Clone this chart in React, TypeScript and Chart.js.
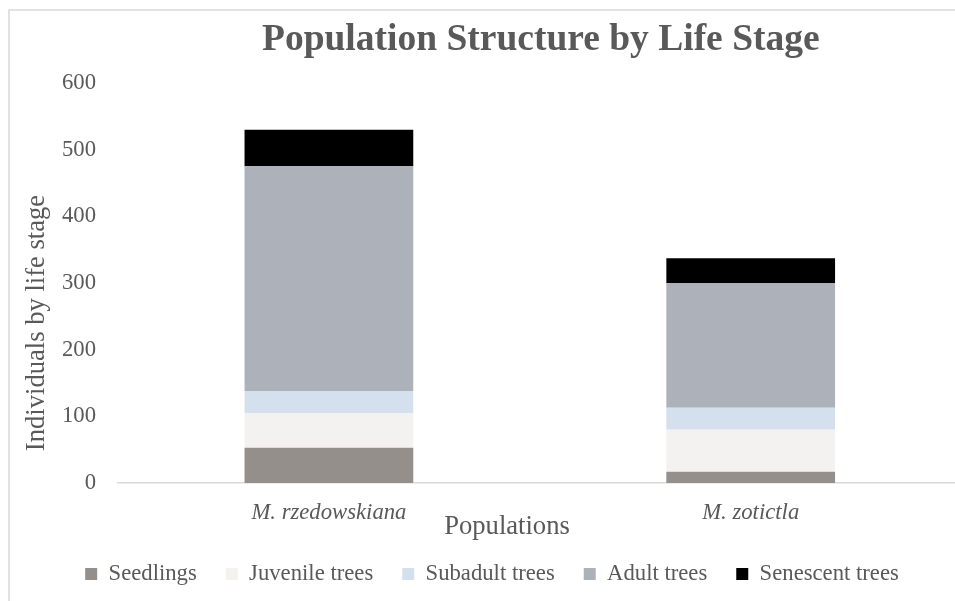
import React, { useEffect, useRef } from "react";
import { Chart, registerables } from "chart.js";

Chart.register(...registerables);

const categories = ["M. rzedowskiana", "M. zotictla"];
const seriesNames = ["Seedlings", "Juvenile trees", "Subadult trees", "Adult trees", "Senescent trees"];
const seedlings = [53, 17];
const juvenile = [52, 63];
const subadult = [33, 33];
const adult = [337, 187];
const senescent = [55, 37];
const seriesColors = ["#958f8b", "#f4f2f0", "#d5e0ee", "#adb1ba", "#000000"];
const yMin = 0;
const yMax = 600;
const yStep = 100;
const chartTitle = "Population Structure by Life Stage";
const yAxisTitle = "Individuals by life stage";
const xAxisTitle = "Populations";

const FONT = "'Times New Roman', 'Liberation Serif', serif";
const TEXT = "#595959";

const textPlugin = {
  id: "excelText",
  beforeDraw(chart: any) {
    const ctx = chart.ctx;
    ctx.save();
    ctx.strokeStyle = "#d9d9d9";
    ctx.lineWidth = 1.5;
    ctx.strokeRect(9, 10, 1000, 700);
    ctx.restore();
  },
  afterDraw(chart: any) {
    const ctx = chart.ctx;
    const area = chart.chartArea;
    ctx.save();
    ctx.fillStyle = TEXT;
    ctx.textAlign = "center";
    ctx.textBaseline = "alphabetic";
    ctx.font = `bold 37.5px ${FONT}`;
    ctx.fillText(chartTitle, (area.left + area.right) / 2 + 1, 50);

    ctx.font = `26.6px ${FONT}`;
    ctx.textBaseline = "middle";
    ctx.fillText(xAxisTitle, 507, 527);

    ctx.translate(37, 323);
    ctx.rotate(-Math.PI / 2);
    ctx.fillText(yAxisTitle, 0, 0);
    ctx.restore();
  },
};

export default function App() {
  const ref = useRef<HTMLCanvasElement | null>(null);

  useEffect(() => {
    if (!ref.current) return;
    const chart = new Chart(ref.current, {
      type: "bar",
      data: {
        labels: categories,
        datasets: [seedlings, juvenile, subadult, adult, senescent].map((d, i) => ({
          label: seriesNames[i],
          data: d,
          backgroundColor: seriesColors[i],
          borderWidth: 0,
          categoryPercentage: 1,
          barPercentage: 0.4,
        })),
      },
      options: {
        responsive: false,
        animation: false,
        devicePixelRatio: 1,
        layout: { padding: { left: 22.4, right: 13.4, top: 83, bottom: 5.6 } },
        plugins: {
          title: { display: false },
          tooltip: { enabled: false },
          legend: {
            position: "bottom",
            labels: {
              boxWidth: 12,
              boxHeight: 12,
              padding: 29,
              color: TEXT,
              font: { family: FONT, size: 22.7 },
            },
          },
        },
        scales: {
          x: {
            stacked: true,
            grid: { display: false, drawTicks: false },
            border: { display: true, color: "#d9d9d9", width: 1.5 },
            ticks: {
              color: TEXT,
              padding: 16,
              font: { family: FONT, size: 22.7, style: "italic" },
              maxRotation: 0,
            },
            afterFit(scale: any) {
              scale.height = 50.7;
            },
          },
          y: {
            stacked: true,
            min: yMin,
            max: yMax,
            grid: { display: false, drawTicks: false },
            border: { display: false },
            ticks: {
              stepSize: yStep,
              color: TEXT,
              padding: 22,
              font: { family: FONT, size: 22.7 },
            },
            afterFit(scale: any) {
              scale.width = 118 - 22.4;
            },
          },
        },
      },
      plugins: [textPlugin],
    });
    return () => chart.destroy();
  }, []);

  return (
    <div style={{ position: "fixed", left: 0, top: 0, width: 955, height: 601, overflow: "hidden", background: "#fff" }}>
      <canvas ref={ref} width={975} height={601} style={{ display: "block", width: 975, height: 601 }} />
    </div>
  );
}
